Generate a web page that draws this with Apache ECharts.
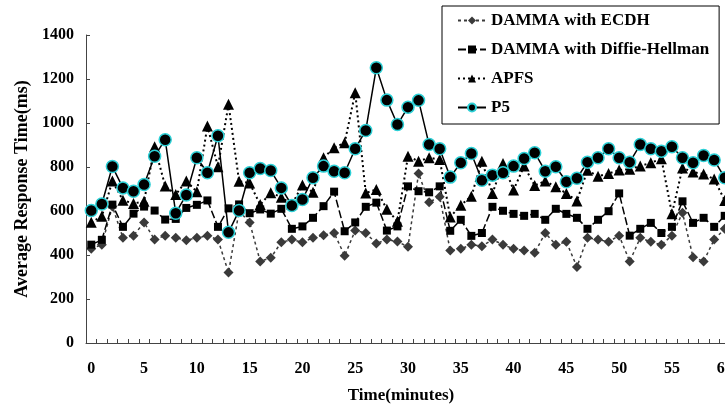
<!DOCTYPE html>
<html>
<head>
<meta charset="utf-8">
<script src="https://cdn.jsdelivr.net/npm/echarts@6/dist/echarts.min.js"></script>
<style>
  html, body { margin: 0; padding: 0; background: #fff; overflow: hidden; }
  #chart { width: 760px; height: 412px; }
</style>
</head>
<body>
<div id="chart"></div>
<script>
const minutes = ['0', '1', '2', '3', '4', '5', '6', '7', '8', '9', '10', '11', '12', '13', '14', '15', '16', '17', '18', '19', '20',
    '21', '22', '23', '24', '25', '26', '27', '28', '29', '30', '31', '32', '33', '34', '35', '36', '37', '38', '39', '40',
    '41', '42', '43', '44', '45', '46', '47', '48', '49', '50', '51', '52', '53', '54', '55', '56', '57', '58', '59', '60']

const ecdh = [428, 447, 620, 478, 488, 548, 470, 488, 478, 467, 478, 488, 470, 320, 600, 548, 371, 387, 458, 470, 458,
    478, 490, 500, 397, 511, 500, 452, 470, 461, 437, 770, 640, 665, 420, 428, 447, 440, 470, 447, 428,
    420, 410, 500, 447, 460, 346, 478, 470, 460, 488, 371, 478, 460, 447, 488, 592, 390, 371, 470, 519]

const diffieHellman = [447, 469, 629, 528, 588, 620, 602, 561, 564, 614, 628, 648, 528, 612, 630, 590, 607, 588, 610, 519, 530,
    569, 622, 688, 508, 548, 619, 638, 511, 530, 712, 690, 685, 712, 510, 560, 487, 500, 619, 601, 587,
    578, 587, 560, 610, 587, 569, 519, 560, 599, 680, 488, 519, 546, 500, 528, 644, 546, 569, 528, 578]

const apfs = [549, 576, 736, 649, 634, 644, 892, 714, 675, 736, 688, 986, 801, 1085, 735, 727, 629, 683, 663, 630, 718,
    685, 842, 887, 910, 1138, 682, 698, 608, 553, 849, 826, 842, 834, 573, 626, 667, 826, 680, 816, 696,
    804, 716, 736, 710, 680, 646, 785, 758, 770, 786, 790, 805, 819, 838, 588, 796, 777, 768, 745, 648]

const p5 = [602, 632, 802, 705, 690, 720, 849, 924, 590, 673, 842, 774, 942, 503, 602, 774, 793, 784, 705, 625, 652,
    751, 804, 781, 774, 883, 966, 1251, 1104, 993, 1072, 1103, 902, 883, 754, 819, 861, 740, 763, 774, 804,
    839, 865, 781, 801, 733, 749, 822, 842, 883, 842, 822, 902, 883, 872, 892, 842, 819, 852, 832, 751]

const font = "'Liberation Serif', 'Times New Roman', serif"
const axisColor = '#444'

const myChart = echarts.init(document.getElementById('chart'))
const option = {
    animation: false,
    backgroundColor: '#fff',
    textStyle: {fontFamily: font, fontWeight: 'bold', color: '#000'},
    grid: {
        left: 86,
        top: 35,
        width: 644,
        height: 308
    },
    legend: {
        orient: 'vertical',
        left: 442,
        top: 6,
        padding: [6, 10, 8, 15],
        itemGap: 12,
        itemWidth: 28,
        itemHeight: 10,
        borderColor: '#000',
        borderWidth: 1,
        backgroundColor: '#fff',
        textStyle: {fontFamily: font, fontWeight: 'bold', fontSize: 17, color: '#000', lineHeight: 17},
        data: ['DAMMA with ECDH', 'DAMMA with Diffie-Hellman', 'APFS', 'P5']
    },
    xAxis: {
        type: 'category',
        data: minutes,
        boundaryGap: true,
        name: 'Time(minutes)',
        nameLocation: 'middle',
        nameGap: 44,
        nameTextStyle: {fontFamily: font, fontWeight: 'bold', fontSize: 17, color: '#000', padding: [0, 14, 0, 0]},
        axisLine: {lineStyle: {color: axisColor, width: 1}},
        axisTick: {show: true, inside: true, length: 4, interval: 0, lineStyle: {color: axisColor}},
        axisLabel: {
            interval: 4,
            margin: 18,
            fontFamily: font,
            fontWeight: 'bold',
            fontSize: 16,
            color: '#000'
        },
        splitLine: {show: false}
    },
    yAxis: {
        type: 'value',
        min: 0,
        max: 1400,
        interval: 200,
        name: 'Average Response Time(ms)',
        nameLocation: 'middle',
        nameGap: 52,
        nameTextStyle: {fontFamily: font, fontWeight: 'bold', fontSize: 18, color: '#000'},
        axisLine: {show: true, lineStyle: {color: axisColor, width: 1}},
        axisTick: {show: true, inside: true, length: 4, lineStyle: {color: axisColor}},
        axisLabel: {
            margin: 12,
            fontFamily: font,
            fontWeight: 'bold',
            fontSize: 16,
            color: '#000',
            formatter: function (value) {
                return String(value)
            }
        },
        splitLine: {show: false}
    },
    series: [
        {
            name: 'DAMMA with ECDH',
            type: 'line',
            data: ecdh,
            symbol: 'diamond',
            symbolSize: 10,
            showAllSymbol: true,
            itemStyle: {color: '#3a3a3a'},
            lineStyle: {color: '#3a3a3a', width: 1.5, type: [3, 3]}
        },
        {
            name: 'DAMMA with Diffie-Hellman',
            type: 'line',
            data: diffieHellman,
            symbol: 'rect',
            symbolSize: 8,
            showAllSymbol: true,
            itemStyle: {color: '#000'},
            lineStyle: {color: '#000', width: 1.5, type: [8, 3]}
        },
        {
            name: 'APFS',
            type: 'line',
            data: apfs,
            symbol: 'triangle',
            symbolSize: 11,
            showAllSymbol: true,
            itemStyle: {color: '#000'},
            lineStyle: {color: '#000', width: 2, type: [2, 3]}
        },
        {
            name: 'P5',
            type: 'line',
            data: p5,
            symbol: 'circle',
            symbolSize: 12,
            showAllSymbol: true,
            itemStyle: {color: '#000', borderColor: '#2cd0d6', borderWidth: 1.5},
            lineStyle: {color: '#000', width: 1.5}
        }
    ]
}
myChart.setOption(option)
</script>
</body>
</html>
